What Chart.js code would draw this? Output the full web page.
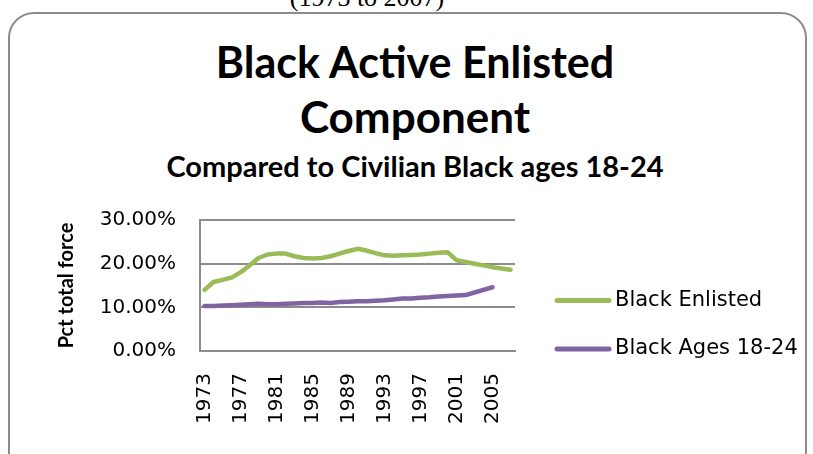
<!DOCTYPE html>
<html lang="en">
<head>
  <meta charset="UTF-8" />
  <title>Black Active Enlisted Component</title>
  <script src="https://cdn.jsdelivr.net/npm/chart.js"></script>
  <style>
    html, body { margin: 0; padding: 0; background: #fff; }
    #page { position: relative; width: 813px; height: 454px; overflow: hidden; }
    #frame { position: absolute; left: 8px; top: 12px; width: 799px; height: 480px;
             border: 2px solid #8c8c8c; border-radius: 26px; box-sizing: border-box; }
    .t { position: absolute; left: 0; width: 830px; text-align: center; color: #000; white-space: nowrap; }
    #range { font-family: "Liberation Serif", serif; font-size: 26px; line-height: 26px; top: -15px; left: -48px; }
    #title1, #title2 { font-family: Lato, sans-serif; font-weight: bold; }
    #title1 { font-size: 43px; line-height: 51.6px; top: 35.5px; }
    #title2 { font-size: 44px; line-height: 52.8px; top: 89.5px; }
    #subtitle { font-family: Lato, sans-serif; font-weight: bold; font-size: 29px; line-height: 34.8px; top: 148.5px; }
    canvas { position: absolute; left: 0; top: 0; }
  </style>
</head>
<body>
<div id="page">
  <div class="t" id="range">(1973 to 2007)</div>
  <div id="frame"></div>
  <div class="t" id="title1">Black Active Enlisted</div>
  <div class="t" id="title2">Component</div>
  <div class="t" id="subtitle">Compared to Civilian Black ages 18-24</div>
  <canvas id="chart" width="813" height="454"></canvas>
</div>

<script>
// years on the category axis
const years = [];
for (let y = 1973; y <= 2007; y++) years.push(String(y));

// percent of total force
const blackEnlisted = [14.0, 15.8, 16.3, 16.8, 18.0, 19.6, 21.3, 22.1, 22.3, 22.3,
                       21.7, 21.3, 21.2, 21.3, 21.7, 22.3, 22.9, 23.4, 23.0, 22.4,
                       21.9, 21.8, 21.9, 22.0, 22.1, 22.3, 22.5, 22.6, 20.8, 20.4,
                       20.0, 19.6, 19.2, 18.9, 18.6];
const blackAges1824 = [10.3, 10.3, 10.4, 10.5, 10.6, 10.7, 10.8, 10.7, 10.7, 10.8,
                       10.9, 11.0, 11.0, 11.1, 11.0, 11.2, 11.3, 11.4, 11.4, 11.5,
                       11.6, 11.8, 12.0, 12.0, 12.2, 12.3, 12.5, 12.6, 12.7, 12.8,
                       13.4, 14.0, 14.6, null, null];
const yTicks = [0, 10, 20, 30];

const seriesNames = ['Black Enlisted', 'Black Ages 18-24'];
const seriesColors = ['#9BBB59', '#8064A2'];

// legend drawn to the right of the plot, Excel style
const sideLegend = {
  id: 'sideLegend',
  afterDraw(chart) {
    const ctx = chart.ctx;
    const area = chart.chartArea;
    ctx.save();
    ctx.font = '21px "DejaVu Sans"';
    ctx.textBaseline = 'middle';
    ctx.lineCap = 'round';
    chart.data.datasets.forEach((ds, i) => {
      const y = area.top + 80.5 + i * 48.5;
      const x = area.right + 40;
      ctx.strokeStyle = ds.borderColor;
      ctx.lineWidth = 5;
      ctx.beginPath();
      ctx.moveTo(x + 2, y);
      ctx.lineTo(x + 54, y);
      ctx.stroke();
      ctx.fillStyle = '#000';
      ctx.textAlign = 'left';
      ctx.fillText(ds.label, x + 60, y);
    });
    ctx.restore();
  }
};

const gridGray = '#8c8c8c';

new Chart(document.getElementById('chart'), {
  type: 'line',
  data: {
    labels: years,
    datasets: [
      { label: seriesNames[0], data: blackEnlisted, borderColor: seriesColors[0] },
      { label: seriesNames[1], data: blackAges1824, borderColor: seriesColors[1] }
    ]
  },
  options: {
    responsive: false,
    devicePixelRatio: 1,
    animation: false,
    layout: { padding: { left: 51, right: 298, top: 220, bottom: 0 } },
    elements: {
      line: { borderWidth: 4.5, tension: 0, borderCapStyle: 'round', borderJoinStyle: 'round', fill: false },
      point: { radius: 0, hoverRadius: 0 }
    },
    plugins: {
      legend: { display: false },
      tooltip: { enabled: false },
      title: { display: false }
    },
    scales: {
      x: {
        offset: true,
        grid: { display: false, drawTicks: false },
        border: { display: true, color: gridGray, width: 2 },
        ticks: {
          autoSkip: false,
          minRotation: 90,
          maxRotation: 90,
          padding: 22,
          color: '#000',
          font: { family: 'DejaVu Sans', size: 20 },
          callback: (v, i) => (i % 4 === 0 ? years[i] : '')
        },
        afterFit: (s) => { s.height = 103; }
      },
      y: {
        min: 0,
        max: 30,
        afterBuildTicks: (s) => { s.ticks = yTicks.map(v => ({ value: v })); },
        grid: { color: gridGray, lineWidth: 2, drawTicks: false },
        border: { display: true, color: gridGray, width: 2 },
        ticks: {
          padding: 24,
          color: '#000',
          font: { family: 'DejaVu Sans', size: 20 },
          callback: (v) => v.toFixed(2) + '%'
        },
        title: {
          display: true,
          text: 'Pct total force',
          color: '#000',
          font: { family: 'Lato', size: 20, weight: 'bold' },
          padding: { top: 4, bottom: 4 }
        },
        afterFit: (s) => { s.width = 149; }
      }
    }
  },
  plugins: [sideLegend]
});
</script>
</body>
</html>
